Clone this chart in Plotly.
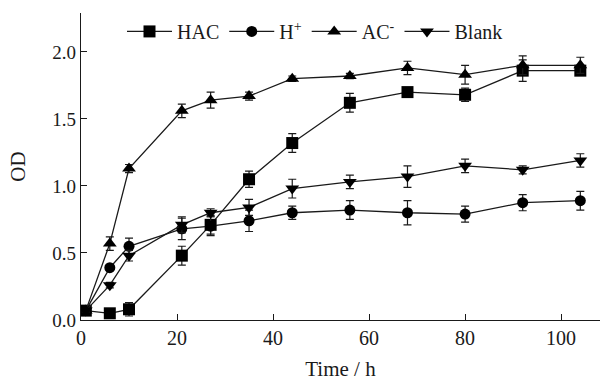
import plotly.graph_objects as go

time_h = [1, 6, 10, 21, 27, 35, 44, 56, 68, 80, 92, 104]

hac = [0.07, 0.05, 0.08, 0.48, 0.71, 1.05, 1.32, 1.62, 1.70, 1.68, 1.86, 1.86]
hac_err = [0.01, 0.01, 0.05, 0.07, 0.07, 0.06, 0.07, 0.07, 0.01, 0.05, 0.08, 0.03]

h_plus = [0.07, 0.39, 0.55, 0.68, 0.70, 0.74, 0.80, 0.82, 0.80, 0.79, 0.875, 0.89]
h_plus_err = [0.01, 0.02, 0.06, 0.08, 0.07, 0.08, 0.05, 0.07, 0.09, 0.06, 0.06, 0.07]

ac_minus = [0.07, 0.57, 1.13, 1.56, 1.64, 1.67, 1.80, 1.82, 1.88, 1.83, 1.90, 1.90]
ac_minus_err = [0.01, 0.05, 0.03, 0.05, 0.06, 0.03, 0.02, 0.02, 0.05, 0.07, 0.07, 0.06]

blank = [0.07, 0.26, 0.48, 0.71, 0.80, 0.84, 0.98, 1.03, 1.07, 1.15, 1.12, 1.19]
blank_err = [0.01, 0.02, 0.04, 0.06, 0.03, 0.06, 0.07, 0.05, 0.08, 0.05, 0.03, 0.05]

series = [
    ("HAC", hac, hac_err, "square", 12),
    ("H<sup>+</sup>", h_plus, h_plus_err, "circle", 11),
    ("AC<sup>-</sup>", ac_minus, ac_minus_err, "triangle-up", 12),
    ("Blank", blank, blank_err, "triangle-down", 12),
]

fig = go.Figure()
for name, ys, errs, sym, size in series:
    fig.add_trace(go.Scatter(
        x=time_h, y=ys, name=name, mode="lines+markers",
        line=dict(color="#1a1a1a", width=1.3),
        marker=dict(symbol=sym, size=size, color="black"),
        error_y=dict(type="data", array=errs, visible=True, color="#1a1a1a",
                     thickness=1.2, width=4),
    ))

font_family = "Liberation Serif, Times New Roman, serif"
fig.update_layout(
    width=600, height=381,
    margin=dict(l=81, r=0, t=13, b=61),
    paper_bgcolor="white", plot_bgcolor="white",
    font=dict(family=font_family, size=20, color="#1a1a1a"),
    showlegend=True,
    legend=dict(orientation="h", x=0.079, y=0.94, xanchor="left", yanchor="middle",
                bgcolor="rgba(0,0,0,0)", font=dict(size=20), itemwidth=45,
                tracegroupgap=0),
    xaxis=dict(range=[0, 108.1], tickvals=[0, 20, 40, 60, 80, 100],
               ticks="inside", ticklen=6, tickwidth=1, tickcolor="#1a1a1a",
               showline=True, linecolor="#1a1a1a", linewidth=1.3,
               showgrid=False, zeroline=False, mirror=False, automargin=False,
               tickfont=dict(size=20),
               title=dict(text="Time / h", font=dict(size=21), standoff=21)),
    yaxis=dict(range=[0, 2.29], tickvals=[0, 0.5, 1.0, 1.5, 2.0], tickformat=".1f",
               ticks="inside", ticklen=6, tickwidth=1, tickcolor="#1a1a1a",
               showline=True, linecolor="#1a1a1a", linewidth=1.3,
               showgrid=False, zeroline=False, mirror=False, automargin=False,
               tickfont=dict(size=19),
               title=dict(text="OD", font=dict(size=21), standoff=20)),
)

fig.write_html("out.html")
